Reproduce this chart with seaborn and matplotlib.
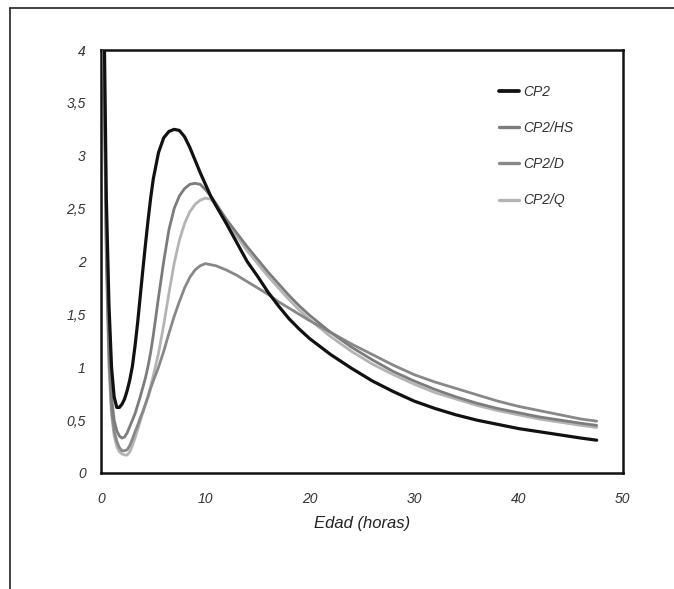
import matplotlib
matplotlib.use("Agg")
import matplotlib.pyplot as plt
from matplotlib.lines import Line2D
import seaborn as sns
import pandas as pd
import numpy as np

# values
edad = [0, 0.25, 0.5, 0.75, 1, 1.25, 1.5, 1.75, 2, 2.25, 2.5, 2.75, 3, 3.25, 3.5, 3.75, 4, 4.25, 4.5, 4.75,
        5, 5.5, 6, 6.5, 7, 7.5, 8, 8.5, 9, 9.5, 10, 10.5, 11, 12, 13, 14, 15, 16,
        17, 18, 19, 20, 22, 24, 26, 28, 30, 32, 34, 36, 38, 40, 42, 44, 46, 47.5]

cp2 = [8.0, 4.6, 2.6, 1.6, 1.0, 0.72, 0.62, 0.62, 0.65, 0.7, 0.78, 0.88, 1.01, 1.2, 1.42, 1.67, 1.92, 2.16, 2.39, 2.6,
       2.78, 3.03, 3.17, 3.23, 3.25, 3.24, 3.18, 3.08, 2.96, 2.84, 2.73, 2.62, 2.53, 2.36, 2.18, 2.0, 1.86, 1.71,
       1.58, 1.46, 1.36, 1.27, 1.12, 0.99, 0.87, 0.77, 0.68, 0.61, 0.55, 0.5, 0.46, 0.42, 0.39, 0.36, 0.33, 0.31]

cp2_hs = [8.0, 4.2, 2.2, 1.2, 0.72, 0.5, 0.4, 0.35, 0.33, 0.34, 0.38, 0.44, 0.5, 0.56, 0.64, 0.72, 0.81, 0.9, 1.01, 1.14,
          1.3, 1.66, 2.0, 2.3, 2.5, 2.62, 2.69, 2.73, 2.74, 2.73, 2.68, 2.62, 2.55, 2.4, 2.27, 2.14, 2.02, 1.9,
          1.79, 1.68, 1.58, 1.49, 1.33, 1.19, 1.07, 0.96, 0.87, 0.79, 0.72, 0.66, 0.61, 0.57, 0.53, 0.5, 0.47, 0.45]

cp2_d = [8.0, 4.1, 2.1, 1.1, 0.6, 0.4, 0.3, 0.24, 0.21, 0.21, 0.22, 0.26, 0.32, 0.39, 0.45, 0.52, 0.58, 0.65, 0.72, 0.8,
         0.87, 1.0, 1.15, 1.32, 1.48, 1.62, 1.75, 1.85, 1.92, 1.96, 1.98, 1.97, 1.96, 1.92, 1.87, 1.81, 1.75, 1.69,
         1.62, 1.56, 1.5, 1.44, 1.33, 1.22, 1.12, 1.02, 0.93, 0.86, 0.8, 0.74, 0.68, 0.63, 0.59, 0.55, 0.51, 0.49]

cp2_q = [8.0, 4.0, 2.0, 1.0, 0.55, 0.35, 0.25, 0.2, 0.18, 0.17, 0.17, 0.2, 0.26, 0.33, 0.41, 0.49, 0.57, 0.65, 0.73, 0.82,
         0.92, 1.13, 1.4, 1.7, 1.98, 2.2, 2.36, 2.47, 2.54, 2.58, 2.6, 2.59, 2.54, 2.38, 2.24, 2.1, 1.98, 1.86,
         1.75, 1.64, 1.54, 1.45, 1.29, 1.15, 1.03, 0.93, 0.84, 0.76, 0.7, 0.64, 0.59, 0.55, 0.51, 0.48, 0.45, 0.43]

series = ["CP2", "CP2/HS", "CP2/D", "CP2/Q"]
colors = {"CP2": "#111111", "CP2/HS": "#7c7c7c", "CP2/D": "#888888", "CP2/Q": "#b4b4b4"}
widths = {"CP2": 2.3, "CP2/HS": 2.0, "CP2/D": 2.0, "CP2/Q": 2.0}

df = pd.concat([
    pd.DataFrame({"edad": edad, "valor": vals, "serie": name})
    for name, vals in zip(series, [cp2, cp2_hs, cp2_d, cp2_q])
])

sns.set_style("white")
plt.rcParams["font.family"] = ["Liberation Sans", "DejaVu Sans"]

fig = plt.figure(figsize=(6.74, 5.89), dpi=100)
ax = fig.add_axes([0.150, 0.197, 0.774, 0.718])

# draw lightest first so black sits on top
draw_order = ["CP2/Q", "CP2/D", "CP2/HS", "CP2"]
for i, name in enumerate(draw_order):
    sns.lineplot(data=df[df["serie"] == name], x="edad", y="valor", color=colors[name],
                 lw=widths[name], ax=ax, legend=False, zorder=2 + i)

ax.set_xlim(0, 50)
ax.set_ylim(0, 4)
ax.set_xticks(np.arange(0, 51, 10))
yt = np.arange(0, 4.01, 0.5)
ax.set_yticks(yt)
ax.set_yticklabels([f"{v:g}".replace(".", ",") for v in yt])
for lab in ax.get_xticklabels() + ax.get_yticklabels():
    lab.set_fontstyle("italic")
ax.tick_params(axis="both", which="both", direction="out", length=3, width=0.8,
               colors="#888888", labelcolor="#333333", labelsize=10)
ax.tick_params(axis="x", pad=11)
ax.tick_params(axis="y", pad=8)

for sp in ax.spines.values():
    sp.set_color("#111111")
    sp.set_linewidth(1.8)

ax.set_xlabel("Edad (horas)", fontsize=12, fontstyle="italic", color="#222222", labelpad=7)
ax.set_ylabel("")

handles = [Line2D([0], [0], color=colors[n], lw=widths[n] + 0.4) for n in series]
leg = ax.legend(handles, series, loc="upper left", bbox_to_anchor=(0.762, 0.918),
                frameon=False, borderpad=0, borderaxespad=0, handlelength=1.5,
                handletextpad=0.25, labelspacing=1.6, fontsize=10)
for t in leg.get_texts():
    t.set_fontstyle("italic")
    t.set_color("#333333")

# outer border lines (top and left) of the original figure
fig.add_artist(Line2D([0.0148, 1.0], [0.986, 0.986], transform=fig.transFigure, color="#222222", lw=1.2))
fig.add_artist(Line2D([0.0148, 0.0148], [0.0, 0.986], transform=fig.transFigure, color="#222222", lw=1.2))

fig.savefig("out.png", dpi=100)
